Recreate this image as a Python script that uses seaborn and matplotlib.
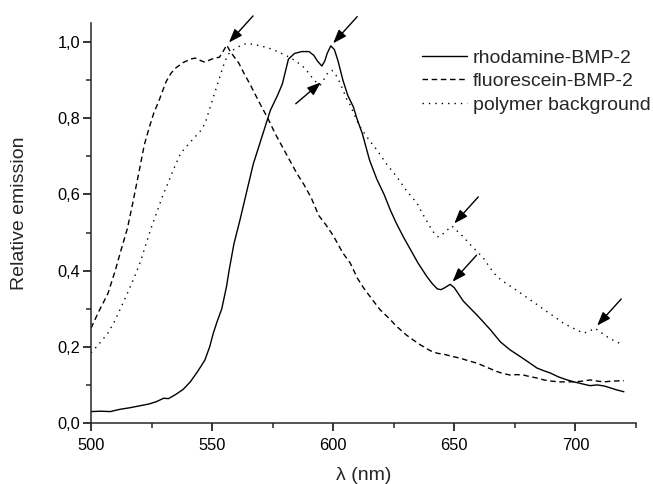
import matplotlib
matplotlib.use("Agg")
import matplotlib.pyplot as plt
from matplotlib.ticker import MultipleLocator, FixedLocator, FuncFormatter
import seaborn as sns

# Emission spectra (wavelength in nm, normalised emission)
rhod_nm = [500, 504, 508, 512, 516, 520, 524, 527, 530, 532, 535, 538, 541, 544,
           547, 549, 550.5, 552, 554, 556, 557, 559, 561.5, 564, 567, 570, 574,
           577, 579, 581.5, 584, 587, 590, 592, 593.5, 595.3, 596.5, 597.5, 599,
           600.5, 602, 604, 606, 608.3, 610, 612, 615, 618, 621, 623.5, 626, 629,
           632, 635, 638.7, 641, 643, 644.5, 646, 648.3, 650, 653.7, 656, 659.4,
           662, 665, 669, 673, 677.3, 681, 684.2, 687, 689.7, 693, 696.6, 700,
           703.3, 706, 709, 712, 714.5, 717, 720]
rhod_em = [0.030, 0.031, 0.030, 0.036, 0.040, 0.045, 0.050, 0.056, 0.065, 0.064,
           0.075, 0.088, 0.108, 0.135, 0.165, 0.200, 0.236, 0.265, 0.300, 0.360,
           0.400, 0.470, 0.533, 0.600, 0.680, 0.740, 0.820, 0.860, 0.890, 0.955,
           0.970, 0.975, 0.975, 0.965, 0.950, 0.937, 0.950, 0.970, 0.990, 0.980,
           0.950, 0.900, 0.860, 0.830, 0.795, 0.760, 0.690, 0.640, 0.600, 0.560,
           0.525, 0.488, 0.454, 0.420, 0.384, 0.365, 0.352, 0.350, 0.355, 0.364,
           0.355, 0.320, 0.305, 0.283, 0.265, 0.244, 0.213, 0.192, 0.174, 0.158,
           0.144, 0.137, 0.131, 0.121, 0.113, 0.107, 0.102, 0.098, 0.100, 0.097,
           0.092, 0.087, 0.082]

fluo_nm = [500, 503, 507, 510, 512.4, 515, 517, 520, 522, 524, 526, 528, 531, 533,
           535, 538, 541, 543, 545, 547, 549, 551, 553, 554.5, 556, 557.5, 559,
           561, 563, 566, 570, 573, 576, 579, 582, 585, 588, 591, 594, 597, 600,
           604, 607, 610, 612.5, 616, 619.4, 623, 626.3, 630, 633, 636, 640, 643,
           646, 649, 652.5, 656, 659.4, 662, 665, 667.6, 670, 673, 676, 678.5, 681,
           684.2, 687, 690, 693, 696, 700, 703, 706, 709, 712, 715, 720]
fluo_em = [0.249, 0.290, 0.340, 0.400, 0.454, 0.510, 0.570, 0.665, 0.730, 0.775,
           0.815, 0.845, 0.896, 0.918, 0.932, 0.946, 0.955, 0.958, 0.952, 0.947,
           0.953, 0.958, 0.960, 0.975, 0.992, 0.975, 0.962, 0.945, 0.920, 0.885,
           0.835, 0.800, 0.760, 0.725, 0.690, 0.655, 0.625, 0.590, 0.545, 0.520,
           0.492, 0.446, 0.420, 0.380, 0.355, 0.325, 0.297, 0.275, 0.253, 0.232,
           0.218, 0.205, 0.190, 0.183, 0.180, 0.175, 0.170, 0.163, 0.157, 0.150,
           0.142, 0.135, 0.130, 0.126, 0.127, 0.126, 0.122, 0.118, 0.113, 0.110,
           0.108, 0.108, 0.108, 0.110, 0.113, 0.110, 0.108, 0.110, 0.111]

poly_nm = [500, 503, 507, 510, 512.4, 515, 518, 520.5, 522.7, 525, 527, 529.5,
           531.8, 534.5, 537, 540, 542.8, 545, 547, 548.5, 550, 551.5, 553, 554.5,
           556, 557.5, 559.5, 562, 564.3, 567, 570, 573, 576.7, 580, 582, 585,
           587.6, 590, 592, 594.6, 596, 597.4, 599.4, 601, 603, 605.6, 607, 609,
           611, 614, 618, 622, 626.3, 630, 634.6, 637, 640, 642, 643.5, 645,
           646.3, 648, 649, 651, 653.7, 656, 658, 662, 665, 667.6, 671, 674.4,
           678, 681.4, 685, 688.3, 692, 695, 699, 703.3, 705.5, 708, 710, 712.9,
           716, 719]
poly_em = [0.184, 0.205, 0.236, 0.270, 0.304, 0.340, 0.384, 0.425, 0.470, 0.515,
           0.550, 0.595, 0.630, 0.672, 0.708, 0.730, 0.750, 0.765, 0.785, 0.815,
           0.845, 0.875, 0.905, 0.935, 0.960, 0.975, 0.982, 0.992, 0.996, 0.994,
           0.990, 0.985, 0.976, 0.966, 0.960, 0.948, 0.935, 0.918, 0.900, 0.887,
           0.900, 0.916, 0.926, 0.915, 0.890, 0.850, 0.835, 0.805, 0.778, 0.750,
           0.717, 0.680, 0.646, 0.612, 0.577, 0.548, 0.515, 0.495, 0.488, 0.495,
           0.502, 0.512, 0.517, 0.505, 0.489, 0.472, 0.459, 0.433, 0.405, 0.384,
           0.368, 0.354, 0.338, 0.323, 0.307, 0.292, 0.276, 0.262, 0.249, 0.236,
           0.240, 0.249, 0.240, 0.227, 0.216, 0.207]

series_labels = ["rhodamine-BMP-2", "fluorescein-BMP-2", "polymer background"]
x_ticks = [500, 550, 600, 650, 700]
y_ticks = [0.0, 0.2, 0.4, 0.6, 0.8, 1.0]
x_label = "\u03bb (nm)"
y_label = "Relative emission"

# Spectral features marked by arrows: (series, wavelength)
marked_features = [("fluo", 556), ("rhod", 599), ("poly", 596),
                   ("poly", 649), ("rhod", 648.3), ("poly", 708)]

spectra = {"rhod": (rhod_nm, rhod_em),
           "fluo": (fluo_nm, fluo_em),
           "poly": (poly_nm, poly_em)}

sns.set_style("ticks")
plt.rcParams["font.family"] = ["Liberation Sans", "DejaVu Sans"]

fig = plt.figure(figsize=(6.53, 4.84), dpi=100)
ax = fig.add_axes([91 / 653, 61 / 484, 545 / 653, 400 / 484])

line_styles = ["-", (0, (4.0, 2.6)), (0, (1.0, 3.6))]
for key, label, ls in zip(["rhod", "fluo", "poly"], series_labels, line_styles):
    xs, ys = spectra[key]
    sns.lineplot(x=xs, y=ys, ax=ax, color="black", linewidth=1.0,
                 linestyle=ls, label=label, sort=False, estimator=None)

# Arrows pointing at the marked features
for key, nm in marked_features:
    xs, ys = spectra[key]
    y = ys[xs.index(nm)]
    offset = (-20, -17) if (key, nm) == ("poly", 596) else (19, 21)
    ax.annotate("", xy=(nm, y), xytext=offset, textcoords="offset points",
                arrowprops=dict(arrowstyle="-|>,head_length=0.55,head_width=0.2",
                                color="black", lw=1.0, shrinkA=0, shrinkB=2.5,
                                mutation_scale=15),
                annotation_clip=False)

ax.set_xlim(500, 725)
ax.set_ylim(0, 1.05)
ax.xaxis.set_major_locator(FixedLocator(x_ticks))
ax.xaxis.set_minor_locator(MultipleLocator(25))
ax.yaxis.set_major_locator(FixedLocator(y_ticks))
ax.yaxis.set_minor_locator(MultipleLocator(0.1))
ax.yaxis.set_major_formatter(FuncFormatter(lambda v, _: f"{v:.1f}".replace(".", ",")))

sns.despine(ax=ax)
for side in ("left", "bottom"):
    ax.spines[side].set_linewidth(1.1)
ax.tick_params(which="major", direction="out", length=6, width=1.1,
               labelsize=11.8, colors="black")
ax.tick_params(axis="y", which="major", pad=1.5)
ax.tick_params(axis="x", which="major", pad=5)
ax.tick_params(which="minor", direction="out", length=3.8, width=1.1)

ax.set_xlabel(x_label, fontsize=14, labelpad=10)
ax.set_ylabel(y_label, fontsize=14)
ax.yaxis.set_label_coords(-0.115, 0.525)

handles, labels = ax.get_legend_handles_labels()
ax.legend(handles, labels, frameon=False, loc="upper left",
          bbox_to_anchor=(422 / 653, 1 - 49 / 484), bbox_transform=fig.transFigure,
          borderpad=0, borderaxespad=0, handlelength=2.3, handletextpad=0.3,
          labelspacing=0.3, fontsize=14)

fig.savefig("out.png", dpi=100)
